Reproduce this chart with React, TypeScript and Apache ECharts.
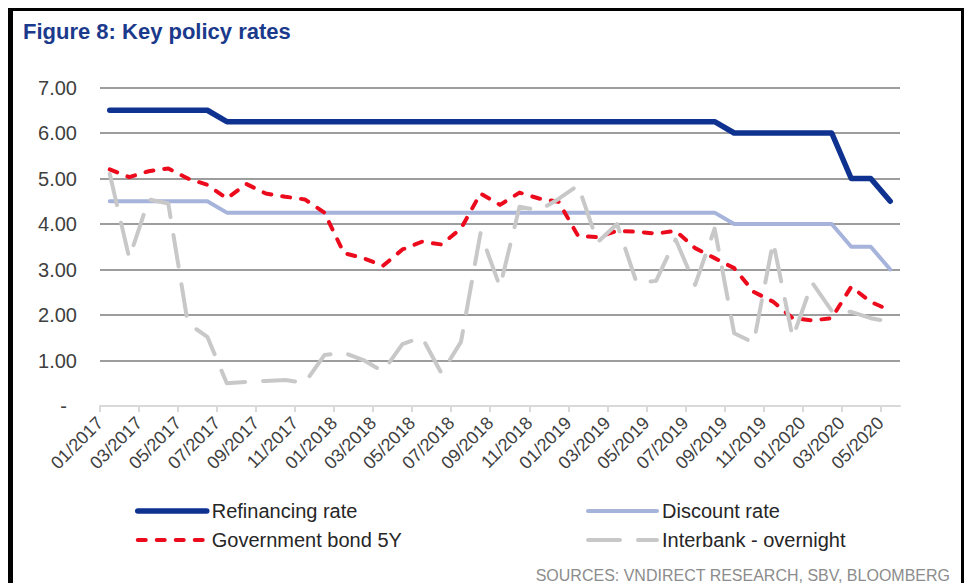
import React, { useEffect, useRef } from "react";
import * as echarts from "echarts";

const months = [
  "01/2017", "02/2017", "03/2017", "04/2017", "05/2017", "06/2017", "07/2017", "08/2017", "09/2017", "10/2017", "11/2017", "12/2017",
  "01/2018", "02/2018", "03/2018", "04/2018", "05/2018", "06/2018", "07/2018", "08/2018", "09/2018", "10/2018", "11/2018", "12/2018",
  "01/2019", "02/2019", "03/2019", "04/2019", "05/2019", "06/2019", "07/2019", "08/2019", "09/2019", "10/2019", "11/2019", "12/2019",
  "01/2020", "02/2020", "03/2020", "04/2020", "05/2020",
];

const refinancingRate = [
  6.5, 6.5, 6.5, 6.5, 6.5, 6.5, 6.25, 6.25, 6.25, 6.25, 6.25, 6.25,
  6.25, 6.25, 6.25, 6.25, 6.25, 6.25, 6.25, 6.25, 6.25, 6.25, 6.25, 6.25,
  6.25, 6.25, 6.25, 6.25, 6.25, 6.25, 6.25, 6.25, 6.0, 6.0, 6.0, 6.0,
  6.0, 6.0, 5.0, 5.0, 4.5,
];

const discountRate = [
  4.5, 4.5, 4.5, 4.5, 4.5, 4.5, 4.25, 4.25, 4.25, 4.25, 4.25, 4.25,
  4.25, 4.25, 4.25, 4.25, 4.25, 4.25, 4.25, 4.25, 4.25, 4.25, 4.25, 4.25,
  4.25, 4.25, 4.25, 4.25, 4.25, 4.25, 4.25, 4.25, 4.0, 4.0, 4.0, 4.0,
  4.0, 4.0, 3.5, 3.5, 3.0,
];

const governmentBond5Y = [
  5.2, 5.03, 5.16, 5.22, 5.0, 4.86, 4.56, 4.88, 4.67, 4.6, 4.54, 4.25,
  3.36, 3.25, 3.08, 3.44, 3.61, 3.55, 3.9, 4.67, 4.42, 4.69, 4.56, 4.49,
  3.74, 3.71, 3.85, 3.83, 3.79, 3.85, 3.47, 3.25, 3.03, 2.51, 2.29, 1.93,
  1.88, 1.93, 2.62, 2.29, 2.1,
];

const interbankOvernight = [
  5.1, 3.25, 4.54, 4.45, 1.82, 1.52, 0.5, 0.53, 0.55, 0.57, 0.51, 1.12,
  1.17, 1.01, 0.76, 1.36, 1.51, 0.72, 1.41, 3.8, 2.62, 4.38, 4.3, 4.55,
  4.85, 3.6, 4.0, 2.71, 2.75, 3.66, 2.66, 3.9, 1.6, 1.39, 3.61, 1.5,
  2.71, 2.09, 2.07, 1.93, 1.85,
];

const seriesNames = ["Refinancing rate", "Discount rate", "Government bond 5Y", "Interbank - overnight"];
const titleText = "Figure 8: Key policy rates";
const sourceText = "SOURCES: VNDIRECT RESEARCH, SBV, BLOOMBERG";

export default function App() {
  const ref = useRef<HTMLDivElement>(null);

  useEffect(() => {
    if (!ref.current) return;
    const chart = echarts.init(ref.current, undefined, { renderer: "svg" });
    const font = "Arial, 'Liberation Sans', Helvetica, sans-serif";
    const toPoints = (arr: number[]) => arr.map((v, i) => [i + 0.5, v]);
    const tickValues = months.map((_, i) => i).filter((i) => i % 2 === 0);

    const legendCommon = {
      orient: "vertical",
      top: 501,
      itemWidth: 69,
      itemHeight: 14,
      itemGap: 9,
      padding: 0,
      itemStyle: { opacity: 0 },
      lineStyle: { width: "inherit", type: "inherit", cap: "round" },
      textStyle: { fontSize: 20, color: "#262626", fontFamily: font, lineHeight: 20 },
    };

    chart.setOption({
      animation: false,
      backgroundColor: "#ffffff",
      grid: { left: 100, right: 69, top: 87.5, bottom: 177, containLabel: false },
      xAxis: {
        type: "value",
        min: 0,
        max: months.length,
        axisLine: { show: true, onZero: false, lineStyle: { color: "#d9d9d9", width: 2 } },
        axisTick: { show: true, customValues: tickValues, length: 6, lineStyle: { color: "#d9d9d9", width: 2 } },
        axisLabel: {
          customValues: tickValues,
          formatter: (v: number) => months[Math.round(v)] ?? "",
          rotate: 45,
          margin: 14,
          fontSize: 18,
          color: "#404040",
          fontFamily: font,
        },
        splitLine: { show: false },
      },
      yAxis: {
        type: "value",
        min: 0,
        max: 7,
        interval: 1,
        axisLine: { show: false },
        axisTick: { show: false },
        axisLabel: {
          formatter: (v: number) => (v === 0 ? "{z|-}" : v.toFixed(2)),
          margin: 23,
          fontSize: 20,
          color: "#404040",
          fontFamily: font,
          rich: { z: { fontSize: 20, color: "#404040", fontFamily: font, padding: [0, 10, 0, 0] } },
        },
        splitLine: {
          show: true,
          lineStyle: {
            color: ["#d9d9d9", "#9d9d9d", "#9d9d9d", "#9d9d9d", "#9d9d9d", "#9d9d9d", "#9d9d9d", "#9d9d9d"],
            width: 2,
          },
        },
      },
      legend: [
        { ...legendCommon, left: 135, data: [seriesNames[0], seriesNames[2]] },
        { ...legendCommon, left: 586, data: [seriesNames[1], seriesNames[3]] },
      ],
      series: [
        {
          name: seriesNames[0],
          type: "line",
          data: toPoints(refinancingRate),
          symbol: "none",
          itemStyle: { color: "#0f3290" },
          lineStyle: { color: "#0f3290", width: 5.5, cap: "round", join: "round" },
        },
        {
          name: seriesNames[1],
          type: "line",
          data: toPoints(discountRate),
          symbol: "none",
          itemStyle: { color: "#a6b4dc" },
          lineStyle: { color: "#a6b4dc", width: 4, cap: "round", join: "round" },
        },
        {
          name: seriesNames[2],
          type: "line",
          data: toPoints(governmentBond5Y),
          symbol: "none",
          itemStyle: { color: "#ec0b1c" },
          lineStyle: { color: "#ec0b1c", width: 4, type: [8, 11], cap: "round", join: "round" },
        },
        {
          name: seriesNames[3],
          type: "line",
          data: toPoints(interbankOvernight),
          symbol: "none",
          itemStyle: { color: "#c8c8c8" },
          lineStyle: { color: "#c8c8c8", width: 4, type: [32, 18], cap: "round", join: "round" },
        },
      ],
      graphic: [
        { type: "rect", shape: { x: 8, y: 8, width: 956, height: 3 }, style: { fill: "#000000" }, silent: true },
        { type: "rect", shape: { x: 8, y: 8, width: 5, height: 575 }, style: { fill: "#000000" }, silent: true },
        { type: "rect", shape: { x: 961, y: 8, width: 3, height: 575 }, style: { fill: "#000000" }, silent: true },
        {
          type: "text",
          x: 23,
          y: 31,
          style: {
            text: titleText,
            fontSize: 22,
            fontWeight: "bold",
            fontFamily: font,
            fill: "#1b3a8c",
            verticalAlign: "middle",
          },
        },
        {
          type: "text",
          x: 950,
          y: 575,
          style: {
            text: sourceText,
            fontSize: 16,
            fontFamily: font,
            fill: "#8c8c8c",
            align: "right",
            verticalAlign: "middle",
          },
        },
      ],
    });

    return () => chart.dispose();
  }, []);

  return <div ref={ref} style={{ position: "absolute", left: 0, top: 0, width: 969, height: 583 }} />;
}
